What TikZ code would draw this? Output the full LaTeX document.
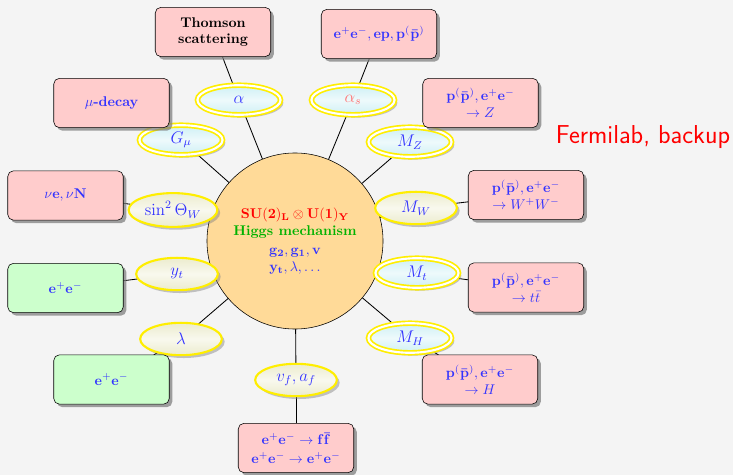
\documentclass[tikz,border=0pt]{standalone}
\usepackage{amsmath,amssymb}
\usepackage{xcolor}
\usetikzlibrary{shapes.geometric,shadows,backgrounds}

\definecolor{boxpink}{RGB}{255,204,204}
\definecolor{boxgreen}{RGB}{204,255,204}
\definecolor{sunfill}{RGB}{255,218,152}
\definecolor{ellcyan}{RGB}{206,240,245}
\definecolor{ellcream}{RGB}{236,236,206}
\definecolor{ringyellow}{RGB}{255,238,0}
\definecolor{bggray}{RGB}{244,244,244}

\begin{document}
\begin{tikzpicture}[x=0.71pt,y=-0.71pt,every node/.style={outer sep=0pt},
    meas/.style={draw,thin,rounded corners=4pt,minimum width=82pt,minimum
    height=35pt,align=center,font=\bfseries,text=blue!80,
    drop shadow={shadow xshift=2.2pt,shadow yshift=-2.2pt,opacity=0.75}},
    pinkmeas/.style={meas,fill=boxpink},
    greenmeas/.style={meas,fill=boxgreen},
    coupl/.style={ellipse,inner sep=1pt,text=blue!80,font=\large,
    drop shadow={shadow xshift=2pt,shadow yshift=-2pt,opacity=0.45}},
    dcoupl/.style={coupl,draw=ringyellow,line width=1.2pt,double=white,double
    distance=1.5pt,minimum width=59pt,minimum height=21pt,
    top color=ellcyan,bottom color=ellcyan,middle color=ellcyan!35},
    scoupl/.style={coupl,draw=ringyellow,line width=1.5pt,minimum width=58pt,
    minimum height=23pt,top color=ellcream,bottom color=ellcream,middle color=ellcream!35},
    link/.style={line width=0.6pt}]

    \useasboundingbox (0,0) rectangle (733,475);

    % theory in the middle
    \node[circle,draw,thin,fill=sunfill,minimum size=125pt,align=center] (sm) at (295,241)
     {{\color{red}$\mathbf{SU(2)_L\otimes U(1)_Y}$}\\
      {\color{green!70!black}\bfseries Higgs mechanism}\\[2pt]
      {\color{blue!80}$\mathbf{g_2, g_1, v}$}\\
      {\color{blue!80}$\mathbf{y_t}, \lambda, \ldots$}};

    % parameters
    \node[dcoupl] (alpha) at (239,100) {$\alpha$};
    \node[dcoupl,text=red!55] (alphas) at (353,100) {$\alpha_s$};
    \node[dcoupl] (gmu) at (181,140) {$G_\mu$};
    \node[dcoupl] (mz) at (410,142) {$M_Z$};
    \node[scoupl,minimum width=63pt,minimum height=24pt] (sinw) at (173,210) {$\sin^2\Theta_W$};
    \node[scoupl] (mw) at (416,208) {$M_W$};
    \node[scoupl] (yt) at (177,274) {$y_t$};
    \node[dcoupl] (mt) at (417,273) {$M_t$};
    \node[scoupl] (lam) at (181,339) {$\lambda$};
    \node[dcoupl] (mh) at (410,338) {$M_H$};
    \node[scoupl] (vf) at (296,380) {$v_f, a_f$};

    % measurements
    \node[pinkmeas,text=black] (thomson) at (213,32) {Thomson\\scattering};
    \node[pinkmeas] (lep) at (379,34) {$\mathbf{e^+e^-, ep, p^{(}\bar{p}^{)}}$};
    \node[pinkmeas] (mudecay) at (111.5,103) {$\mu$-decay};
    \node[pinkmeas] (zprod) at (480.5,103) {$\mathbf{p^{(}\bar{p}^{)}, e^+e^-}$\\$\to Z$};
    \node[pinkmeas] (nue) at (65.5,195.5) {$\nu\mathbf{e}, \nu\mathbf{N}$};
    \node[pinkmeas] (wwprod) at (526,195) {$\mathbf{p^{(}\bar{p}^{)}, e^+e^-}$\\$\to W^+W^-$};
    \node[greenmeas] (eeyt) at (65.5,288) {$\mathbf{e^+e^-}$};
    \node[pinkmeas] (ttprod) at (526,287.5) {$\mathbf{p^{(}\bar{p}^{)}, e^+e^-}$\\$\to t\bar{t}$};
    \node[greenmeas] (eelam) at (111.5,379.5) {$\mathbf{e^+e^-}$};
    \node[pinkmeas] (hprod) at (480,379.5) {$\mathbf{p^{(}\bar{p}^{)}, e^+e^-}$\\$\to H$};
    \node[pinkmeas,inner xsep=0pt] (ffbar) at (296,448)
     {$\mathbf{e^+e^-\to f\bar{f}}$\\[1pt]$\mathbf{e^+e^-\to e^+e^-}$};

    \node[text=red,font=\fontsize{18.4}{22}\selectfont\sffamily] (note) at (643,137) {Fermilab, backup};

    \begin{scope}[on background layer]
     \fill[bggray] (0,0) rectangle (733,475);
     \foreach \M/\P in {thomson/alpha,lep/alphas,mudecay/gmu,zprod/mz,nue/sinw,
        wwprod/mw,eeyt/yt,ttprod/mt,eelam/lam,hprod/mh,ffbar/vf}
     {
        \draw[link] (\M) -- (\P);
        \draw[link] (\P) -- (sm);
     }
    \end{scope}
\end{tikzpicture}
\end{document}
